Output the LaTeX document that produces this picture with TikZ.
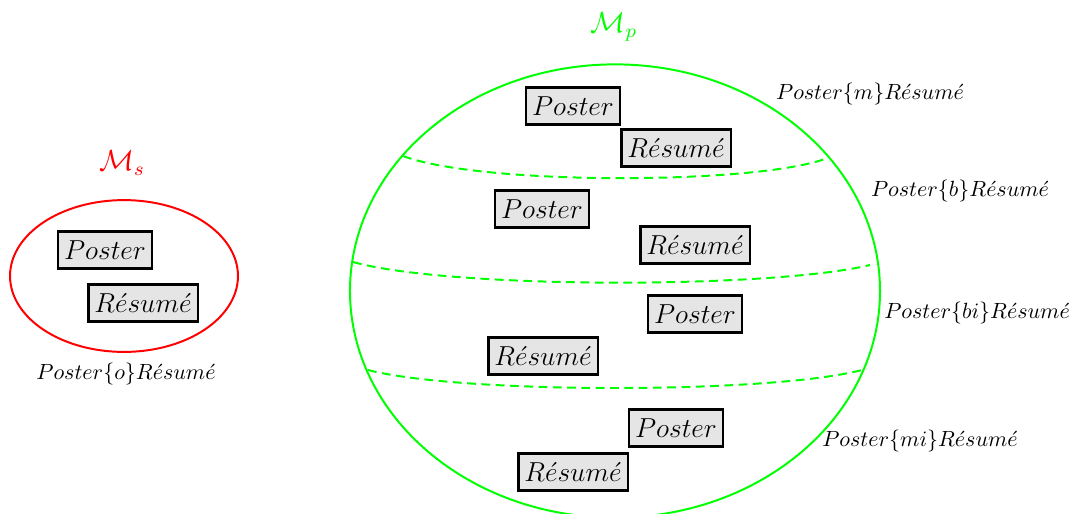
\documentclass[tikz,border=0pt]{standalone}
\usepackage{graphicx}
\newcommand{\doctxt}[1]{\scalebox{1.04}{$#1$}}
\newcommand{\settxt}[1]{\scalebox{1.1}{$#1$}}
\begin{document}
\begin{tikzpicture}[x=0.4545pt,y=-0.4545pt,
  docbox/.style={draw=black,fill=gray!20,line width=1.1pt,inner xsep=2.8pt,inner ysep=2.5pt,minimum height=16.8pt,font=\fontsize{12}{14}\selectfont},
  rellabel/.style={font=\fontsize{10}{12}\selectfont,inner sep=1pt},
  setlabel/.style={font=\fontsize{12}{14}\selectfont,inner sep=1pt},
  sepline/.style={draw=green,line width=0.9pt,dash pattern=on 4pt off 2.5pt}]
\useasboundingbox (0,0) rectangle (1070,513);
% left set
\draw[red,line width=0.9pt] (124,276) ellipse [x radius=51.8pt,y radius=34.5pt];
\node[setlabel,text=red] (ms) at (122,163) {\settxt{\mathcal{M}_s}};
\node[docbox] (sp) at (105,250) {\doctxt{Poster}};
\node[docbox] (sr) at (143,303) {\doctxt{R\acute{e}sum\acute{e}}};
\node[rellabel] (lo) at (126,374) {$Poster\{o\}R\acute{e}sum\acute{e}$};
% right set
\begin{scope}
\clip (0,0) rectangle (1070,513);
\draw[green,line width=0.9pt] (615,291) ellipse [x radius=120.45pt,y radius=103pt];
\end{scope}
\node[setlabel,text=green] (mp) at (614,27) {\settxt{\mathcal{M}_p}};
\coordinate (a1) at (403,156); \coordinate (b1) at (825,159);
\coordinate (a2) at (353,262); \coordinate (b2) at (870,265);
\coordinate (a3) at (368,370); \coordinate (b3) at (862,370);
\draw[sepline] (a1) .. controls (480,185) and (750,185) .. (b1);
\draw[sepline] (a2) .. controls (450,289) and (770,289) .. (b2);
\draw[sepline] (a3) .. controls (460,394) and (770,394) .. (b3);
\node[docbox] (p1) at (573,106) {\doctxt{Poster}};
\node[docbox] (r1) at (676,148) {\doctxt{R\acute{e}sum\acute{e}}};
\node[docbox] (p2) at (542,209) {\doctxt{Poster}};
\node[docbox] (r2) at (695,245) {\doctxt{R\acute{e}sum\acute{e}}};
\node[docbox] (p3) at (695,314) {\doctxt{Poster}};
\node[docbox] (r3) at (543,356) {\doctxt{R\acute{e}sum\acute{e}}};
\node[docbox] (p4) at (676,428) {\doctxt{Poster}};
\node[docbox] (r4) at (573,472) {\doctxt{R\acute{e}sum\acute{e}}};
\node[rellabel] (lm) at (870,94) {$Poster\{m\}R\acute{e}sum\acute{e}$};
\node[rellabel] (lb) at (960,191) {$Poster\{b\}R\acute{e}sum\acute{e}$};
\node[rellabel] (lbi) at (977,313) {$Poster\{bi\}R\acute{e}sum\acute{e}$};
\node[rellabel] (lmi) at (920,441) {$Poster\{mi\}R\acute{e}sum\acute{e}$};
\end{tikzpicture}
\end{document}
